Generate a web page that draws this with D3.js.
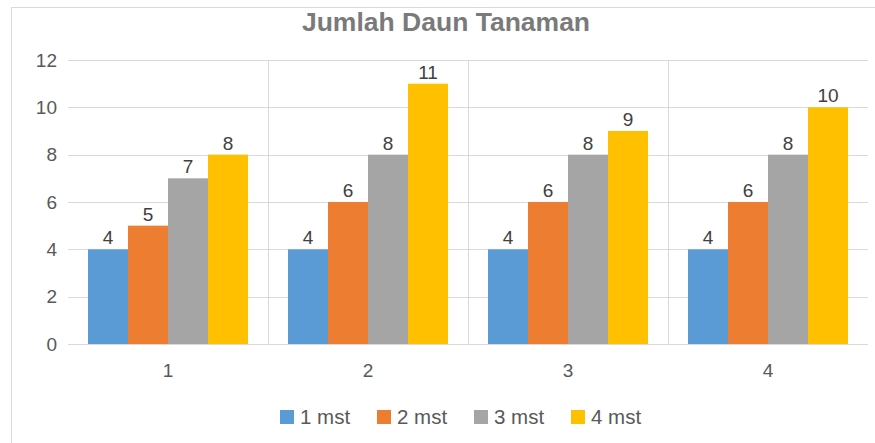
<!DOCTYPE html>
<html lang="id">
<head>
    <meta charset="UTF-8">
    <title>Jumlah Daun Tanaman</title>
    <script src="https://cdnjs.cloudflare.com/ajax/libs/d3/7.8.5/d3.min.js"></script>
    <style>
        body { margin: 0; background: #fff; }
        svg text { font-family: "Liberation Sans", Arial, sans-serif; }
    </style>
</head>
<body>
    <div id="chart"></div>
    <script>
        // Data
        const categories = ["1", "2", "3", "4"];
        const seriesNames = ["1 mst", "2 mst", "3 mst", "4 mst"];
        const seriesColors = ["#5B9BD5", "#ED7D31", "#A5A5A5", "#FFC000"];
        const mst1 = [4, 4, 4, 4];
        const mst2 = [5, 6, 6, 6];
        const mst3 = [7, 8, 8, 8];
        const mst4 = [8, 11, 9, 10];
        const yTicks = [0, 2, 4, 6, 8, 10, 12];

        const seriesValues = [mst1, mst2, mst3, mst4];

        const width = 875;
        const height = 443;
        const plot = { left: 68, right: 868, top: 60, bottom: 344 };

        const svg = d3.select("#chart").append("svg")
            .attr("width", width)
            .attr("height", height);

        // chart border
        svg.append("rect")
            .attr("x", 11.5).attr("y", 7.5)
            .attr("width", 900).attr("height", 500)
            .attr("fill", "#fff")
            .attr("stroke", "#d9d9d9");

        const x0 = d3.scaleBand()
            .domain(categories)
            .range([plot.left, plot.right]);

        const x1 = d3.scaleBand()
            .domain(seriesNames)
            .range([0, x0.bandwidth()])
            .paddingOuter(0.5);

        const y = d3.scaleLinear()
            .domain([0, 12])
            .range([plot.bottom, plot.top]);

        // horizontal gridlines
        svg.append("g").selectAll("line")
            .data(yTicks)
            .enter().append("line")
            .attr("x1", plot.left).attr("x2", plot.right)
            .attr("y1", d => Math.round(y(d)) + 0.5)
            .attr("y2", d => Math.round(y(d)) + 0.5)
            .attr("stroke", "#d9d9d9");

        // vertical lines between categories
        svg.append("g").selectAll("line")
            .data(categories.slice(1))
            .enter().append("line")
            .attr("x1", d => Math.round(x0(d)) + 0.5)
            .attr("x2", d => Math.round(x0(d)) + 0.5)
            .attr("y1", plot.top).attr("y2", plot.bottom)
            .attr("stroke", "#d9d9d9");

        // y tick labels
        svg.append("g").selectAll("text")
            .data(yTicks)
            .enter().append("text")
            .attr("x", 57)
            .attr("y", d => y(d))
            .attr("dy", "0.35em")
            .attr("text-anchor", "end")
            .attr("font-size", 19)
            .attr("fill", "#595959")
            .text(d => d);

        // bars
        const groups = svg.append("g").selectAll("g")
            .data(categories)
            .enter().append("g")
            .attr("transform", d => `translate(${x0(d)},0)`);

        groups.selectAll("rect")
            .data((c, i) => seriesNames.map((s, j) => ({ s, j, v: seriesValues[j][i] })))
            .enter().append("rect")
            .attr("x", d => x1(d.s))
            .attr("width", x1.bandwidth())
            .attr("y", d => y(d.v))
            .attr("height", d => y(0) - y(d.v))
            .attr("fill", d => seriesColors[d.j]);

        // data labels
        groups.selectAll("text")
            .data((c, i) => seriesNames.map((s, j) => ({ s, j, v: seriesValues[j][i] })))
            .enter().append("text")
            .attr("x", d => x1(d.s) + x1.bandwidth() / 2)
            .attr("y", d => y(d.v) - 5)
            .attr("text-anchor", "middle")
            .attr("font-size", 19)
            .attr("fill", "#404040")
            .text(d => d.v);

        // x labels
        svg.append("g").selectAll("text")
            .data(categories)
            .enter().append("text")
            .attr("x", d => x0(d) + x0.bandwidth() / 2)
            .attr("y", 377)
            .attr("text-anchor", "middle")
            .attr("font-size", 19)
            .attr("fill", "#595959")
            .text(d => d);

        // title
        svg.append("text")
            .attr("x", 446)
            .attr("y", 31)
            .attr("text-anchor", "middle")
            .attr("font-size", 26.5)
            .attr("font-weight", "bold")
            .attr("fill", "#7a7a7a")
            .text("Jumlah Daun Tanaman");

        // legend
        const legend = svg.append("g").selectAll("g")
            .data(seriesNames)
            .enter().append("g")
            .attr("transform", (d, i) => `translate(${280 + i * 97},410)`);

        legend.append("rect")
            .attr("width", 14).attr("height", 14)
            .attr("fill", (d, i) => seriesColors[i]);

        legend.append("text")
            .attr("x", 20)
            .attr("y", 14)
            .attr("font-size", 20.5)
            .attr("fill", "#595959")
            .text(d => d);
    </script>
</body>
</html>
